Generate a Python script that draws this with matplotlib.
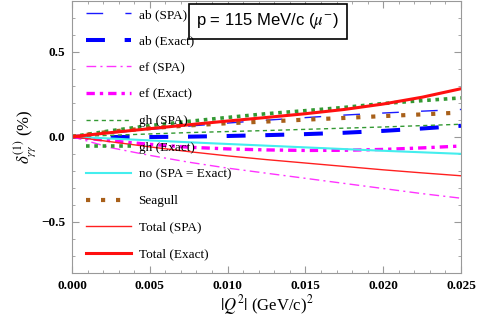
import matplotlib
matplotlib.use('Agg')
import matplotlib.pyplot as plt
import numpy as np
from matplotlib.ticker import MultipleLocator

plt.rcParams['font.family'] = ['Liberation Serif', 'DejaVu Serif']
plt.rcParams['mathtext.fontset'] = 'stix'

# |Q^2| grid (GeV/c)^2
q2 = [0.0, 0.0025, 0.005, 0.0075, 0.01, 0.0125, 0.015, 0.0175, 0.02, 0.0225, 0.025]

# delta_gammagamma^(1) in %
ab_spa = [0.0, 0.022, 0.043, 0.062, 0.080, 0.097, 0.112, 0.127, 0.139, 0.150, 0.160]
ab_exact = [0.0, -0.002, -0.002, 0.0, 0.004, 0.009, 0.015, 0.023, 0.034, 0.048, 0.064]
ef_spa = [0.0, -0.065, -0.110, -0.150, -0.185, -0.215, -0.245, -0.275, -0.305, -0.335, -0.362]
ef_exact = [0.0, -0.025, -0.045, -0.062, -0.072, -0.078, -0.081, -0.080, -0.075, -0.066, -0.055]
gh_spa = [0.0, 0.008, 0.016, 0.024, 0.030, 0.036, 0.043, 0.050, 0.057, 0.065, 0.073]
gh_exact = [0.0, 0.035, 0.065, 0.090, 0.113, 0.135, 0.153, 0.172, 0.195, 0.212, 0.228]
no_both = [0.0, -0.011, -0.022, -0.033, -0.043, -0.053, -0.063, -0.073, -0.083, -0.092, -0.101]
seagull = [0.0, 0.030, 0.050, 0.066, 0.079, 0.089, 0.100, 0.110, 0.121, 0.131, 0.142]
total_spa = [0.0, -0.030, -0.060, -0.088, -0.113, -0.135, -0.155, -0.175, -0.195, -0.213, -0.230]
total_exact = [0.0, 0.024, 0.047, 0.070, 0.092, 0.113, 0.135, 0.160, 0.192, 0.232, 0.282]

fig = plt.figure(figsize=(4.78, 3.21), dpi=100)
ax = fig.add_axes([0.1506, 0.1505, 0.8138, 0.8475])

ax.plot(q2, ab_spa, color='#1a1aff', lw=1.0, ls=(0, (12, 16)), label='ab (SPA)')
ax.plot(q2, ab_exact, color='#0000ff', lw=2.9, ls=(0, (4.7, 4.9)), label='ab (Exact)')
ax.plot(q2, ef_spa, color='#ff33ff', lw=1.0, ls=(0, (7, 3, 1.5, 3)), label='ef (SPA)')
ax.plot(q2, ef_exact, color='#ff00ff', lw=2.4, ls=(0, (2.5, 1.5, 1, 1.5)), label='ef (Exact)')
ax.plot(q2, gh_spa, color='#339933', lw=1.0, ls=(0, (3, 2.5)), label='gh (SPA)')
ax.plot(q2, gh_exact, color='#339933', lw=2.6, ls=(0, (1, 1.3)), label='gh (Exact)')
ax.plot(q2, no_both, color='#44eeee', lw=1.5, label='no (SPA = Exact)')
ax.plot(q2, seagull, color='#a8601a', lw=3.0, ls=(0, (1, 2.6)), label='Seagull')
ax.plot(q2, total_spa, color='#ff2020', lw=1.0, label='Total (SPA)')
ax.plot(q2, total_exact, color='#ff1010', lw=2.2, label='Total (Exact)')

ax.set_xlim(0, 0.025)
ax.set_ylim(-0.8, 0.8)
ax.xaxis.set_major_locator(MultipleLocator(0.005))
ax.xaxis.set_minor_locator(MultipleLocator(0.001))
ax.yaxis.set_major_locator(MultipleLocator(0.5))
ax.yaxis.set_minor_locator(MultipleLocator(0.1))
ax.xaxis.set_major_formatter(matplotlib.ticker.FormatStrFormatter('%.3f'))
ax.yaxis.set_major_formatter(matplotlib.ticker.FuncFormatter(
    lambda v, p: ('\u2212%.1f' % -v) if v < 0 else '%.1f' % v))

for s in ax.spines.values():
    s.set_color('#999999')
ax.tick_params(which='both', direction='in', top=True, right=True, color='#999999')
ax.tick_params(which='major', length=5, labelsize=9.5, pad=5)
ax.tick_params(which='minor', length=2.5)
for lab in ax.get_xticklabels() + ax.get_yticklabels():
    lab.set_fontweight('bold')

ax.set_xlabel(r'$|Q^2|$ (GeV/c)$^2$', fontsize=12, labelpad=1)
ax.set_ylabel(r'$\delta^{(1)}_{\gamma\gamma}$ (%)', fontsize=12, labelpad=2)

ax.legend(loc='upper left', bbox_to_anchor=(0.015, 1.0), frameon=False,
          fontsize=9.5, handlelength=3.4, handletextpad=0.6, labelspacing=1.09,
          borderpad=0.6, borderaxespad=0)

ax.text(0.503, 0.925, r'p = 115 MeV/c ($\mu^{-}$)', transform=ax.transAxes,
        fontsize=12, family='Liberation Sans', va='center', ha='center',
        bbox=dict(boxstyle='square,pad=0.45', fc='white', ec='black', lw=1.2))

fig.savefig('out.png', dpi=100)
